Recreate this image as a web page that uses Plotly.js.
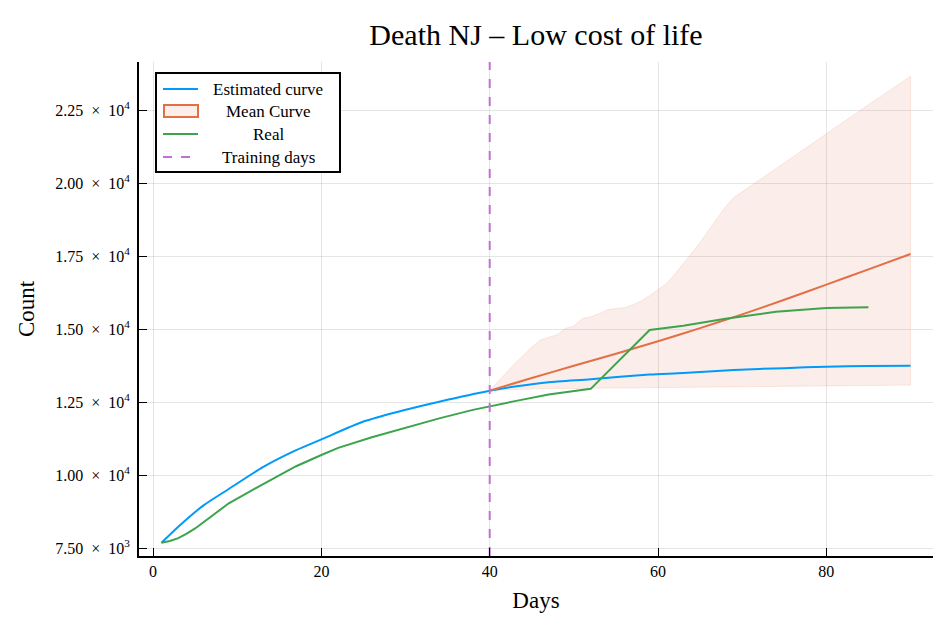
<!DOCTYPE html>
<html>
<head>
<meta charset="utf-8">
<script src="https://cdn.plot.ly/plotly-3.0.1.min.js"></script>
<style>html,body{margin:0;padding:0;background:#fff;}#chart{width:938px;height:620px;}</style>
</head>
<body>
<div id="chart"></div>
<script>
// ---- data ----
const estX = [1,3,6,9,13,17,20,25,29,34,40,43,47,52,59,63,69,75,80,85,90];
const estY = [7680,8230,8960,9520,10260,10850,11220,11830,12160,12510,12885,13030,13180,13280,13440,13490,13600,13660,13710,13730,13745];

const realX = [1,2,3,4,5,7,9,12,15,17,20,22,26,30,34,38,40,43,47,52,59,63,68,74,80,85];
const realY = [7680,7740,7840,7990,8170,8600,9030,9520,9990,10300,10685,10930,11290,11620,11940,12230,12340,12530,12760,12950,14966,15110,15350,15590,15715,15745];

const meanX = [40,45,50,55,60,65,70,75,80,85,90];
const meanY = [12890,13320,13740,14150,14580,15030,15500,16000,16520,17040,17570];

const upperX = [40,41,42,43,44,45,46,47,48,49,50,51,52,53,54,55,56,57,58,59,60,61,62,63,64,65,66,67,68,69,75,80,85,90];
const upperY = [12890,13200,13520,13820,14100,14380,14620,14720,14800,15020,15100,15360,15420,15520,15660,15700,15730,15830,15960,16140,16340,16560,16880,17230,17600,17970,18360,18780,19180,19500,20700,21700,22680,23660];

const lowerX = [40,45,50,60,70,80,90];
const lowerY = [12890,12950,12965,12990,13020,13050,13080];

const trainingDay = 40;

const seriesNames = ['Estimated curve','Mean Curve','Real','Training days'];

const xTicks = [0,20,40,60,80];
const yTicks = [7500,10000,12500,15000,17500,20000,22500];
const yTickText = ['7.50\u2002×\u200210<sup>3</sup>','1.00\u2002×\u200210<sup>4</sup>','1.25\u2002×\u200210<sup>4</sup>','1.50\u2002×\u200210<sup>4</sup>','1.75\u2002×\u200210<sup>4</sup>','2.00\u2002×\u200210<sup>4</sup>','2.25\u2002×\u200210<sup>4</sup>'];

const xRange = [-1.67, 92.67];
const yRange = [7226, 24144];

// ---- colours ----
const cBlue = '#009af9', cOrange = '#e26f46', cGreen = '#3da44d', cPurple = '#c271d2';
const bandFill = 'rgba(226,111,70,0.12)';
const FONT = '"Liberation Serif", "DejaVu Serif", serif';

const bandX = upperX.concat(lowerX.slice().reverse());
const bandY = upperY.concat(lowerY.slice().reverse());

const traces = [
  {x: bandX, y: bandY, type:'scatter', mode:'lines', fill:'toself', fillcolor: bandFill,
   line:{color:'rgba(226,111,70,0.14)', width:1}, hoverinfo:'skip'},
  {x: estX, y: estY, type:'scatter', mode:'lines', name:seriesNames[0],
   line:{color:cBlue, width:2, shape:'spline', smoothing:0.6}},
  {x: meanX, y: meanY, type:'scatter', mode:'lines', name:seriesNames[1],
   line:{color:cOrange, width:2, shape:'spline', smoothing:0.5}},
  {x: realX, y: realY, type:'scatter', mode:'lines', name:seriesNames[2],
   line:{color:cGreen, width:2}},
  {x: [trainingDay, trainingDay], y: yRange, type:'scatter', mode:'lines', name:seriesNames[3],
   line:{color:cPurple, width:2, dash:'dash'}}
];

// ---- custom legend (pixel -> paper) ----
const M = {l:139, r:5, t:62, b:64}, W = 938, H = 620;
const pw = W - M.l - M.r, ph = H - M.t - M.b;
const px = v => (v - M.l) / pw;
const py = v => 1 - (v - M.t) / ph;

const rowY = [89, 111, 134, 157];
const shapes = [
  {type:'rect', xref:'paper', yref:'paper', x0:px(156), x1:px(340), y0:py(73), y1:py(172),
   fillcolor:'#fff', line:{color:'#000', width:2}, layer:'above'},
  {type:'line', xref:'paper', yref:'paper', x0:px(163), x1:px(198), y0:py(rowY[0]), y1:py(rowY[0]),
   line:{color:cBlue, width:2}, layer:'above'},
  {type:'rect', xref:'paper', yref:'paper', x0:px(164), x1:px(198), y0:py(rowY[1]-6), y1:py(rowY[1]+6),
   fillcolor:'rgb(252,238,233)', line:{color:cOrange, width:2}, layer:'above'},
  {type:'line', xref:'paper', yref:'paper', x0:px(163), x1:px(198), y0:py(rowY[2]), y1:py(rowY[2]),
   line:{color:cGreen, width:2}, layer:'above'},
  {type:'line', xref:'paper', yref:'paper', x0:px(163), x1:px(198), y0:py(rowY[3]), y1:py(rowY[3]),
   line:{color:cPurple, width:2, dash:'dash'}, layer:'above'}
];
const annotations = seriesNames.map((n, i) => ({
  text:n, xref:'paper', yref:'paper', x:px(268), y:py(rowY[i]), xanchor:'center', yanchor:'middle',
  showarrow:false, font:{family:FONT, size:17, color:'#000'}
}));

const layout = {
  width: W, height: H,
  margin: M,
  paper_bgcolor:'#fff', plot_bgcolor:'#fff',
  font: {family: FONT, color:'#000', size:16},
  showlegend:false,
  title: {text:'Death NJ – Low cost of life', font:{family:FONT, size:30, color:'#000'},
          x:0.5, xref:'paper', y:1-34/620, yref:'container', yanchor:'middle'},
  xaxis: {
    range: xRange, tickvals: xTicks, ticktext: xTicks.map(String),
    ticks:'inside', ticklen:8, tickwidth:1, tickcolor:'#000',
    showgrid:true, gridcolor:'rgba(0,0,0,0.1)', gridwidth:1,
    showline:true, linecolor:'#000', linewidth:2, zeroline:false,
    tickfont:{family:FONT, size:16},
    title:{text:'Days', font:{family:FONT, size:23}, standoff:13}
  },
  yaxis: {
    range: yRange, tickvals: yTicks, ticktext: yTickText,
    ticks:'inside', ticklen:8, tickwidth:1, tickcolor:'#000',
    showgrid:true, gridcolor:'rgba(0,0,0,0.1)', gridwidth:1,
    showline:true, linecolor:'#000', linewidth:2, zeroline:false,
    tickfont:{family:FONT, size:16}, ticklabelstandoff:4,
    title:{text:'Count', font:{family:FONT, size:23}, standoff:14}
  },
  shapes: shapes,
  annotations: annotations
};

Plotly.newPlot('chart', traces, layout, {displayModeBar:false, staticPlot:true});
</script>
</body>
</html>
